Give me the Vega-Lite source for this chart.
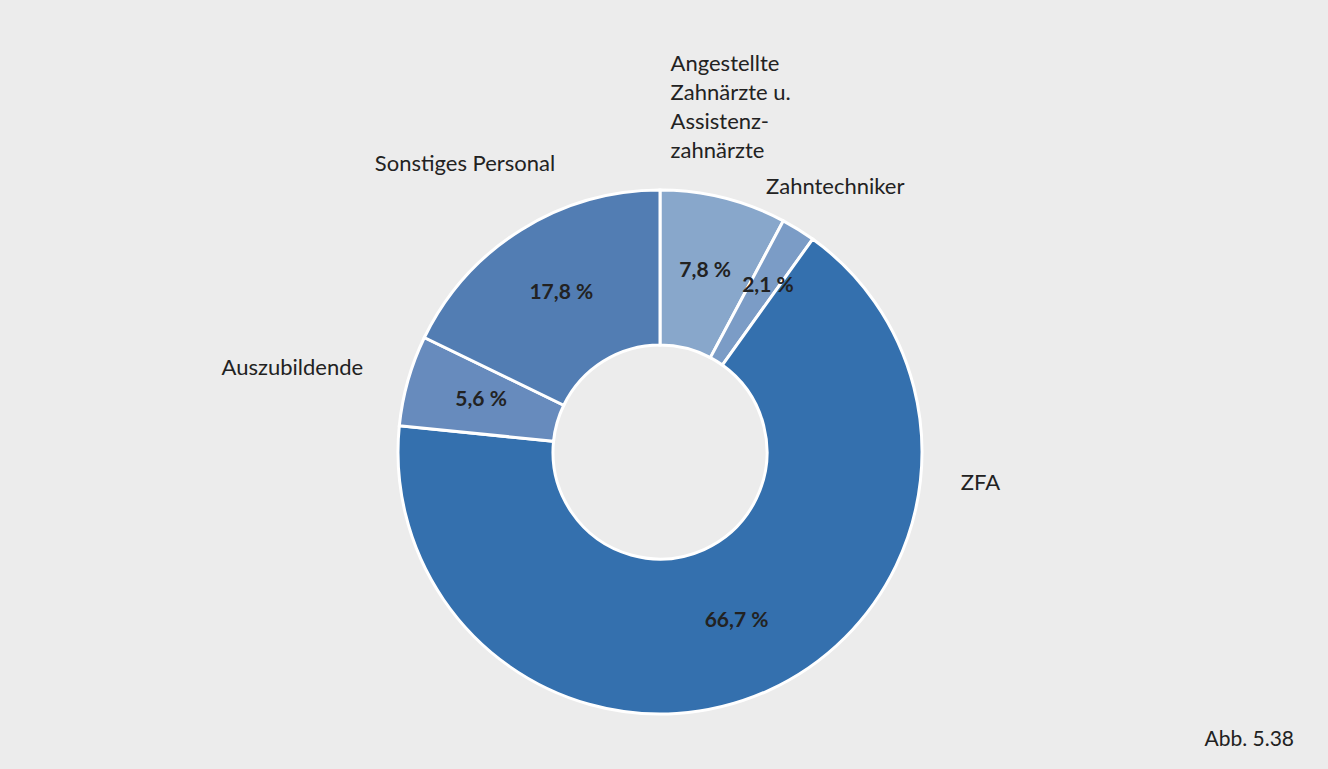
{
  "$schema": "https://vega.github.io/schema/vega-lite/v6.json",
  "width": 1320,
  "height": 634,
  "autosize": "none",
  "padding": {"left": 0, "top": 135, "right": 8, "bottom": 0},
  "background": "#ececec",
  "config": {
    "view": {"stroke": null},
    "text": {"font": "Lato", "fontSize": 22, "color": "#222222"}
  },
  "title": {
    "text": "Abb. 5.38",
    "orient": "bottom",
    "anchor": "end",
    "offset": -40,
    "dx": -26,
    "font": "Lato",
    "fontSize": 21,
    "fontWeight": "normal",
    "color": "#222222"
  },
  "data": {
    "values": [
      {"idx": 1, "cat": "Angestellte Zahnärzte u. Assistenzzahnärzte", "label": "Angestellte\nZahnärzte u.\nAssistenz-\nzahnärzte", "value": 7.8},
      {"idx": 2, "cat": "Zahntechniker", "label": "Zahntechniker", "value": 2.1},
      {"idx": 3, "cat": "ZFA", "label": "ZFA", "value": 66.7},
      {"idx": 4, "cat": "Auszubildende", "label": "Auszubildende", "value": 5.6},
      {"idx": 5, "cat": "Sonstiges Personal", "label": "Sonstiges Personal", "value": 17.8}
    ]
  },
  "transform": [
    {"stack": "value", "groupby": [], "sort": [{"field": "idx", "order": "ascending"}], "as": ["v0", "v1"]},
    {"calculate": "(datum.v0 + datum.v1) / 2", "as": "mid"},
    {"calculate": "replace(format(datum.value, '.1f'), '.', ',') + ' %'", "as": "pct"}
  ],
  "layer": [
    {
      "mark": {"type": "arc", "outerRadius": 262, "innerRadius": 107, "stroke": "white", "strokeWidth": 3},
      "encoding": {
        "theta": {"field": "v0", "type": "quantitative", "stack": null, "scale": {"domain": [0, 100]}},
        "theta2": {"field": "v1"},
        "color": {
          "field": "cat",
          "type": "nominal",
          "legend": null,
          "scale": {
            "domain": ["Angestellte Zahnärzte u. Assistenzzahnärzte", "Zahntechniker", "ZFA", "Auszubildende", "Sonstiges Personal"],
            "range": ["#88a7cb", "#7b9cc6", "#3470ae", "#678bbd", "#527db3"]
          }
        }
      }
    },
    {
      "transform": [{"filter": "datum.cat !== 'Zahntechniker'"}],
      "mark": {"type": "text", "radius": 186, "fontWeight": "bold", "fontSize": 21, "dy": -1},
      "encoding": {
        "theta": {"field": "mid", "type": "quantitative", "stack": null},
        "text": {"field": "pct", "type": "nominal"}
      }
    },
    {
      "transform": [{"filter": "datum.cat === 'Zahntechniker'"}],
      "mark": {"type": "text", "radius": 197, "fontWeight": "bold", "fontSize": 21, "dx": 4, "dy": 1},
      "encoding": {
        "theta": {"field": "mid", "type": "quantitative", "stack": null},
        "text": {"field": "pct", "type": "nominal"}
      }
    },
    {
      "transform": [{"filter": "datum.idx === 1"}],
      "mark": {"type": "text", "radius": 357, "align": "left", "dx": -76, "dy": -42, "lineBreak": "\n", "lineHeight": 29},
      "encoding": {
        "theta": {"field": "mid", "type": "quantitative", "stack": null},
        "text": {"field": "label", "type": "nominal"}
      }
    },
    {
      "transform": [{"filter": "datum.idx === 2"}],
      "mark": {"type": "text", "radius": 315, "dx": 9, "dy": 3},
      "encoding": {
        "theta": {"field": "mid", "type": "quantitative", "stack": null},
        "text": {"field": "label", "type": "nominal"}
      }
    },
    {
      "transform": [{"filter": "datum.idx === 3"}],
      "mark": {"type": "text", "radius": 300, "dx": 197, "dy": -242},
      "encoding": {
        "theta": {"field": "mid", "type": "quantitative", "stack": null},
        "text": {"field": "label", "type": "nominal"}
      }
    },
    {
      "transform": [{"filter": "datum.idx === 4"}],
      "mark": {"type": "text", "radius": 377, "dx": -5, "dy": 19},
      "encoding": {
        "theta": {"field": "mid", "type": "quantitative", "stack": null},
        "text": {"field": "label", "type": "nominal"}
      }
    },
    {
      "transform": [{"filter": "datum.idx === 5"}],
      "mark": {"type": "text", "radius": 345, "dx": -12, "dy": 4},
      "encoding": {
        "theta": {"field": "mid", "type": "quantitative", "stack": null},
        "text": {"field": "label", "type": "nominal"}
      }
    }
  ]
}
